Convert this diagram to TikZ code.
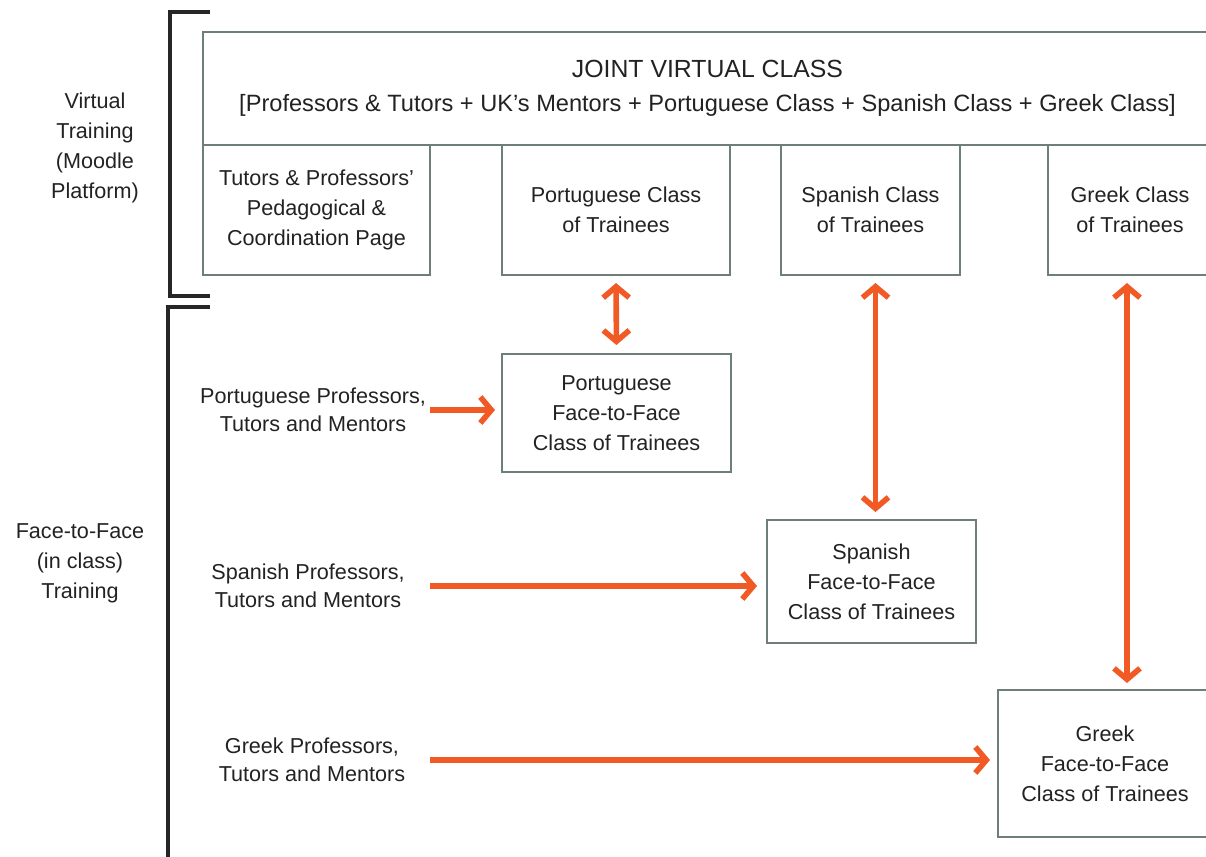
\documentclass[tikz,border=0pt]{standalone}
\usepackage{fontspec}
\setmainfont{Liberation Sans}
\usepackage{xcolor}
\definecolor{vcGray}{HTML}{6E7F7B}
\definecolor{vcOrange}{HTML}{F25A25}
\definecolor{vcText}{HTML}{222222}
\usepackage{tikz}
\usetikzlibrary{arrows.meta}
\tikzset{classbox/.style={draw=vcGray, line width=1pt, fill=white, align=center, text=vcText, inner sep=0pt, outer sep=0pt, font=\fontsize{10.8}{15}\selectfont}}
\tikzset{staff/.style={align=center, text=vcText, inner sep=0pt, font=\fontsize{10.8}{14}\selectfont}}
\tikzset{mode/.style={staff, font=\fontsize{10.8}{15}\selectfont}}
\tikzset{link/.style={draw=vcOrange, line width=2.8pt, -{Straight Barb[length=5.5pt,width=13pt]}}}
\tikzset{twoway/.style={link, {Straight Barb[length=5.5pt,width=13pt]}-{Straight Barb[length=5.5pt,width=13pt]}}}
\tikzset{bracket/.style={draw=black!85, line width=1.6pt}}

\begin{document}
\begin{tikzpicture}[x=0.5pt, y=-0.5pt]
\clip (0,0) rectangle (1206,857);
%--------------------
% virtual training
%--------------------
\node[classbox, minimum width=504.5pt, minimum height=56.5pt](joint) at (707.5,88.5){{\fontsize{12.4}{17.5}\selectfont JOINT VIRTUAL CLASS}\\[2pt]{\fontsize{11.8}{15}\selectfont [Professors \& Tutors + UK's Mentors + Portuguese Class + Spanish Class + Greek Class]}};
\node[classbox, minimum width=113.5pt, minimum height=65pt](coord) at (316.5,210){Tutors \& Professors'\\Pedagogical \&\\Coordination Page};
\node[classbox, minimum width=114pt, minimum height=65pt](ptvirt) at (616,210){Portuguese Class\\of Trainees};
\node[classbox, minimum width=89.5pt, minimum height=65pt](esvirt) at (870.5,210){Spanish Class\\of Trainees};
\node[classbox, minimum width=82pt, minimum height=65pt](grvirt) at (1130,210){Greek Class\\of Trainees};

%--------------------
% face-to-face training
%--------------------
\node[classbox, minimum width=114.5pt, minimum height=59pt](ptf2f) at (616.5,413){Portuguese\\Face-to-Face\\Class of Trainees};
\node[classbox, minimum width=104.5pt, minimum height=61.5pt](esf2f) at (871.5,581.5){Spanish\\Face-to-Face\\Class of Trainees};
\node[classbox, minimum width=107pt, minimum height=73.5pt](grf2f) at (1105,763.5){Greek\\Face-to-Face\\Class of Trainees};

\node[staff](ptstaff) at (313,410){Portuguese Professors,\\Tutors and Mentors};
\node[staff](esstaff) at (308,586){Spanish Professors,\\Tutors and Mentors};
\node[staff](grstaff) at (312,760){Greek Professors,\\Tutors and Mentors};

%--------------------
% arrows
%--------------------
\draw[link, shorten >=3.5pt] (ptstaff -| coord.east) -- (ptstaff -| ptf2f.west);
\draw[link, shorten >=5pt] (esstaff -| coord.east) -- (esstaff -| esf2f.west);
\draw[link, shorten >=4pt] (grstaff -| coord.east) -- (grstaff -| grf2f.west);
\draw[twoway, shorten <=4pt, shorten >=4.5pt] (ptvirt.south) -- (ptf2f.north);
\draw[twoway, shorten <=4pt, shorten >=4pt] ([xshift=2.5pt]esvirt.south) -- ([xshift=2.5pt]esvirt.south |- esf2f.north);
\draw[twoway, shorten <=4pt, shorten >=3.5pt] ([xshift=-1.5pt]grvirt.south) -- ([xshift=-1.5pt]grvirt.south |- grf2f.north);

%--------------------
% brackets
%--------------------
\draw[bracket] (210,12) -- (170,12) -- (170,296) -- (210,296);
\draw[bracket] (210,307) -- (168,307) -- (168,870);
\node[mode](virtual) at (95,148){Virtual\\Training\\(Moodle\\Platform)};
\node[mode](inclass) at (80,563){Face-to-Face\\(in class)\\Training};
\end{tikzpicture}
\end{document}
